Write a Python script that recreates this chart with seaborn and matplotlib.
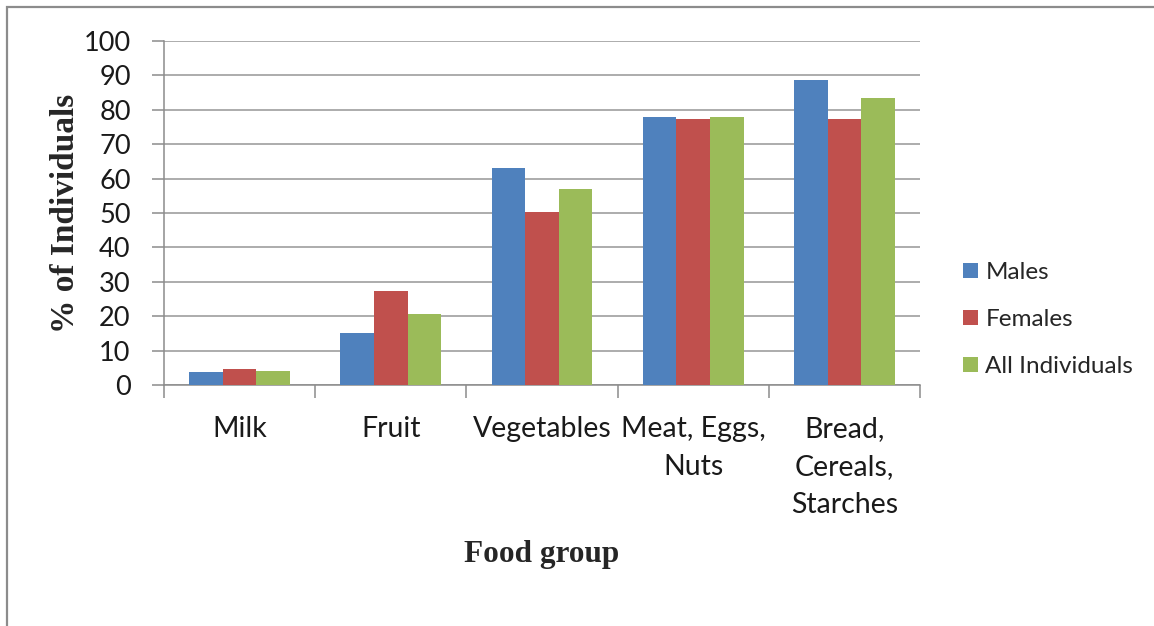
import matplotlib
matplotlib.use("Agg")
import matplotlib.pyplot as plt
from matplotlib.patches import Rectangle
import seaborn as sns
import pandas as pd

categories = ["Milk", "Fruit", "Vegetables", "Meat, Eggs,\nNuts", "Bread,\nCereals,\nStarches"]
males = [3.9, 15.0, 63.0, 78.0, 88.7]
females = [4.6, 27.2, 50.2, 77.2, 77.2]
all_individuals = [4.2, 20.5, 57.0, 77.8, 83.4]
series_names = ["Males", "Females", "All Individuals"]
colors = ["#4F81BD", "#C0504D", "#9BBB59"]
yticks = list(range(0, 101, 10))

rows = []
for name, vals in zip(series_names, [males, females, all_individuals]):
    for cat, v in zip(categories, vals):
        rows.append({"Food group": cat, "Group": name, "Percent": v})
df = pd.DataFrame(rows)

sns.set_theme(style="white")
plt.rcParams["font.family"] = ["Lato", "DejaVu Sans"]

fig = plt.figure(figsize=(11.54, 6.26), dpi=100)
ax = fig.add_axes([164 / 1154, 1 - 385 / 626, (920 - 164) / 1154, (385 - 41) / 626])

sns.barplot(data=df, x="Food group", y="Percent", hue="Group",
            hue_order=series_names, order=categories, palette=colors,
            width=0.667, gap=0, linewidth=0, saturation=1, ax=ax, zorder=3)

ax.set_ylim(0, 100)
ax.set_xlim(-0.5, len(categories) - 0.5)
ax.set_yticks(yticks)
ax.set_yticklabels([str(t) for t in yticks], fontsize=19.5, color="#1a1a1a")
ax.yaxis.grid(True, color="#a6a6a6", linewidth=1.3, zorder=0)
ax.set_axisbelow(True)

# category ticks sit on the group boundaries, labels centred under the bars
ax.set_xticks([i - 0.5 for i in range(len(categories) + 1)])
ax.set_xticklabels([])
ax.tick_params(axis="x", which="major", direction="out", length=9, width=1.1, color="#8c8c8c", bottom=True)
ax.tick_params(axis="y", which="major", direction="out", length=9, width=1.1, color="#8c8c8c", left=True, pad=15)
ax.set_xticks(range(len(categories)), minor=True)
ax.set_xticklabels(categories, minor=True, fontsize=20.5, color="#1a1a1a", va="top", linespacing=1.58)
ax.tick_params(axis="x", which="minor", length=0, pad=22)

for side in ["top", "right"]:
    ax.spines[side].set_visible(False)
for side in ["left", "bottom"]:
    ax.spines[side].set_color("#8c8c8c")
    ax.spines[side].set_linewidth(1.1)

ax.set_xlabel("Food group", fontsize=22.5, fontweight="bold", family="Liberation Serif")
ax.set_ylabel("% of Individuals", fontsize=24, fontweight="bold", family="Liberation Serif")
ax.xaxis.set_label_coords(0.5, -0.45)
ax.yaxis.set_label_coords(-0.11, 0.5)

handles, labels = ax.get_legend_handles_labels()
leg = ax.legend(handles, labels, loc="center left", bbox_to_anchor=(1.057, 0.19),
                frameon=False, fontsize=17.5, handlelength=0.62, handleheight=0.62,
                handletextpad=0.3, labelspacing=1.07, borderpad=0, borderaxespad=0)

# outer chart frame
fig.patches.append(Rectangle((7 / 1154, -0.05), 1.1, 1 - 7 / 626 + 0.05, transform=fig.transFigure,
                             fill=False, edgecolor="#8c8c8c", linewidth=1.6))

fig.savefig("out.png", dpi=100)
